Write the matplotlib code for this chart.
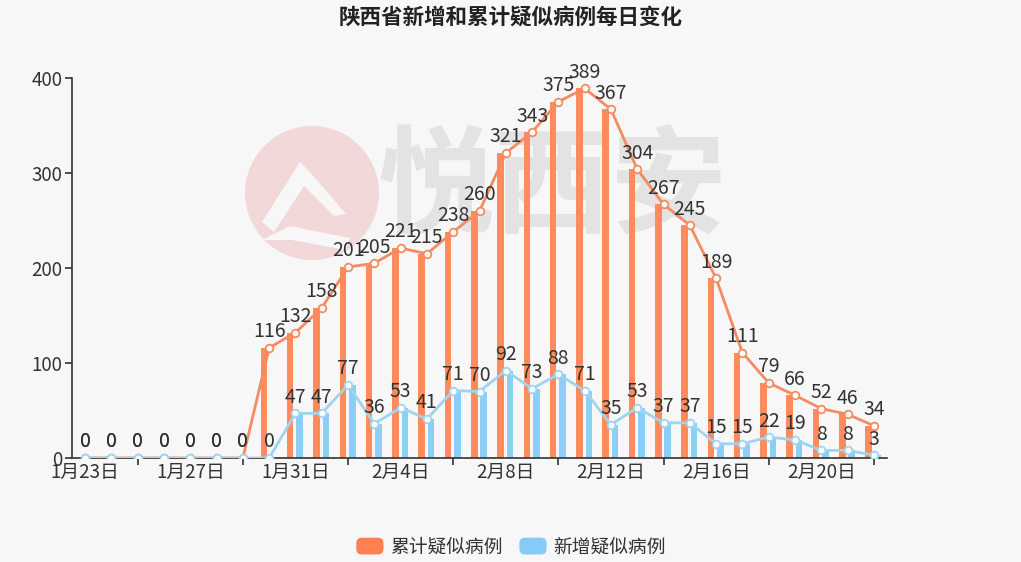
import matplotlib.pyplot as plt
import numpy as np
from matplotlib.patches import Circle, Polygon, FancyBboxPatch, Patch
from matplotlib.legend_handler import HandlerPatch

plt.rcParams['font.family'] = ['Noto Sans CJK SC', 'DejaVu Sans']

# dates 1/23 .. 2/22
dates = ['1月%d日' % d for d in range(23, 32)] + ['2月%d日' % d for d in range(1, 23)]
leiji = [0, 0, 0, 0, 0, 0, 0, 116, 132, 158, 201, 205, 221, 215, 238, 260,
         321, 343, 375, 389, 367, 304, 267, 245, 189, 111, 79, 66, 52, 46, 34]
xinzeng = [0, 0, 0, 0, 0, 0, 0, 0, 47, 47, 77, 36, 53, 41, 71, 70,
           92, 73, 88, 71, 35, 53, 37, 37, 15, 15, 22, 19, 8, 8, 3]

bg = '#f7f7f7'
c_org = '#ff8a5b'
c_org_line = '#f58b60'
c_blue = '#8bcff6'
c_blue_line = '#9fd4f1'
txt = '#333333'

W, H = 1021, 562
fig = plt.figure(figsize=(W / 100, H / 100), dpi=100, facecolor=bg)


def px(x, y):
    # pixel (from top-left) -> inches for dpi_scale_trans
    return (x / 100, (H - y) / 100)


# watermark, behind the axes
logo = Circle(px(312, 193), 0.67, transform=fig.dpi_scale_trans,
              facecolor='#f2d8d8', edgecolor='none', zorder=0)
fig.patches.append(logo)
roof = Polygon([px(*p) for p in [(262, 222), (300, 162), (310, 172), (346, 214), (334, 216),
                                 (304, 186), (274, 232)]],
               closed=True, transform=fig.dpi_scale_trans, facecolor=bg, edgecolor='none', zorder=0)
fig.patches.append(roof)
band = Polygon([px(*p) for p in [(262, 240), (290, 226), (350, 238), (346, 250), (292, 240)]],
               closed=True, transform=fig.dpi_scale_trans, facecolor=bg, edgecolor='none', zorder=0)
fig.patches.append(band)
fig.text(552 / W, 1 - 190 / H, '悦西安', fontsize=84, fontweight='bold', color='#e3e3e3',
         ha='center', va='center', zorder=0)

ax = fig.add_axes([72 / W, 1 - 458 / H, (887 - 72) / W, (458 - 78) / H])
ax.set_facecolor('none')
ax.set_zorder(2)

x = np.arange(len(dates))
ax.bar(x - 0.2, leiji, width=0.25, color=c_org, zorder=2)
ax.bar(x + 0.16, xinzeng, width=0.25, color=c_blue, zorder=2)
ax.plot(x, leiji, color=c_org_line, lw=2, marker='o', ms=5.5, mfc='white', mec=c_org_line,
        mew=1.3, zorder=3)
ax.plot(x, xinzeng, color=c_blue_line, lw=2, marker='o', ms=5.5, mfc='white', mec=c_blue_line,
        mew=1.3, zorder=3)

for i in range(len(dates)):
    ax.annotate(str(leiji[i]), (x[i], leiji[i]), xytext=(0, 4), textcoords='offset points',
                ha='center', va='bottom', fontsize=14, color=txt, zorder=5)
    ax.annotate(str(xinzeng[i]), (x[i], xinzeng[i]), xytext=(0, 4), textcoords='offset points',
                ha='center', va='bottom', fontsize=14, color=txt, zorder=5)

ax.set_xlim(-0.5, len(dates) - 0.5)
ax.set_ylim(0, 400)
ax.set_yticks([0, 100, 200, 300, 400])
ax.set_xticks(x[::4])
ax.set_xticklabels(dates[::4])
ax.set_xticks(x[2::4], minor=True)
ax.tick_params(axis='x', which='major', length=0, labelsize=13.5, colors=txt, pad=3)
ax.tick_params(axis='x', which='minor', length=5, width=1.2, color=txt)
ax.tick_params(axis='y', length=5, width=1.2, labelsize=13.5, colors=txt, pad=2)
for s in ['top', 'right']:
    ax.spines[s].set_visible(False)
for s in ['left', 'bottom']:
    ax.spines[s].set_color(txt)
    ax.spines[s].set_linewidth(1.2)

fig.text(0.5, 1 - 17 / H, '陕西省新增和累计疑似病例每日变化', ha='center', va='center',
         fontsize=15.5, fontweight='bold', color='#222222')


class RoundHandler(HandlerPatch):
    def create_artists(self, legend, orig_handle, xdescent, ydescent, width, height, fontsize, trans):
        p = FancyBboxPatch((-xdescent + 1, -ydescent), width - 2, height,
                           boxstyle='round,pad=0,rounding_size=4',
                           facecolor=orig_handle.get_facecolor(), edgecolor='none', transform=trans)
        return [p]


handles = [Patch(facecolor='#ff8050'), Patch(facecolor='#85cbf6')]
labels = ['累计疑似病例', '新增疑似病例']
leg = fig.legend(handles, labels, loc='center', bbox_to_anchor=(0.5, 1 - 547 / H),
                 ncol=2, frameon=False, fontsize=13.5, handlelength=1.6, handleheight=1.0,
                 columnspacing=0.8, handletextpad=0.3, handler_map={Patch: RoundHandler()})
for t in leg.get_texts():
    t.set_color(txt)

fig.savefig('out.png', dpi=100, facecolor=bg)
